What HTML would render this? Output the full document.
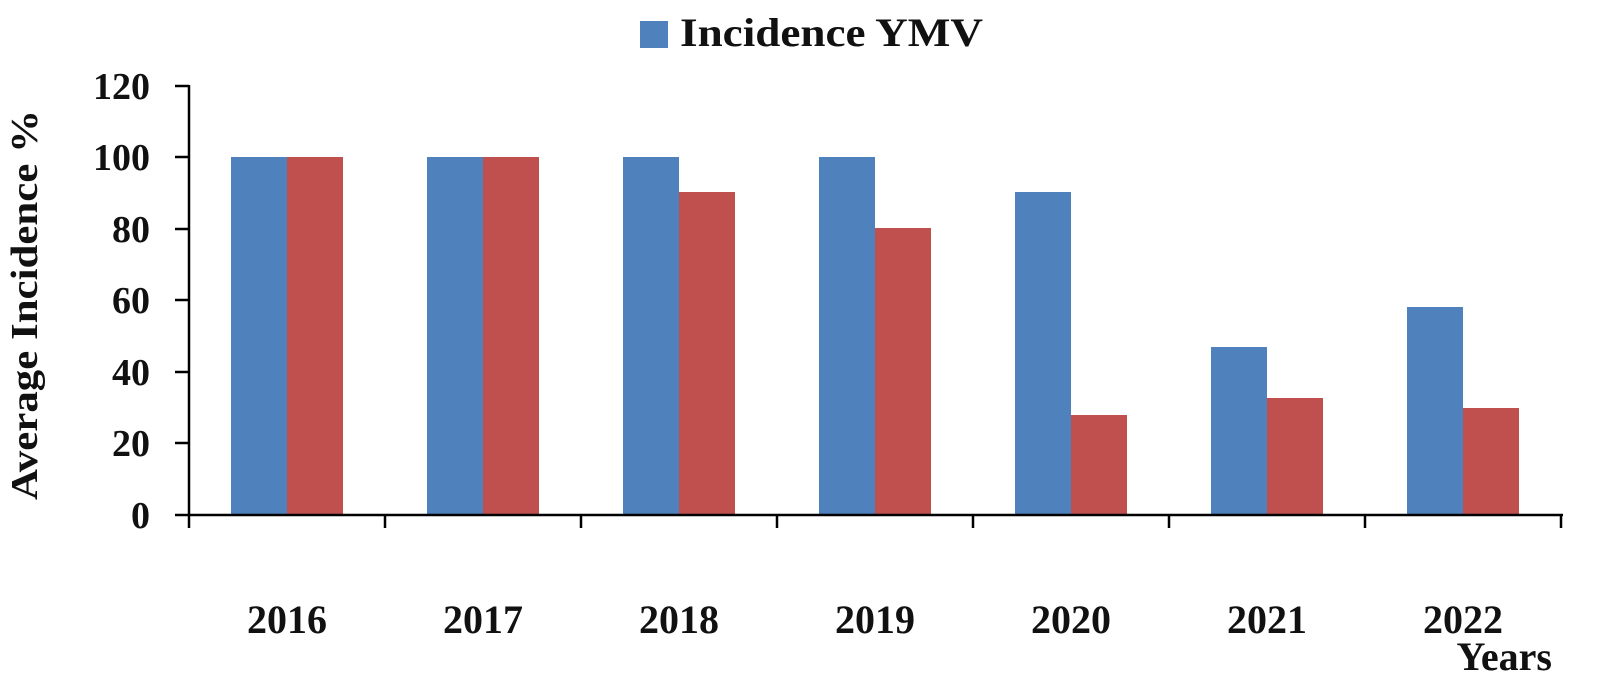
<!DOCTYPE html>
<html><head><meta charset="utf-8"><style>
html,body{margin:0;padding:0;background:#fff}
svg text{font-family:"Liberation Serif",serif;font-weight:bold;fill:#111}
</style></head><body>
<svg width="1600" height="680" xmlns="http://www.w3.org/2000/svg">
<rect x="640" y="21" width="28" height="27" fill="#4F81BD"/>
<text x="680" y="46" font-size="40" textLength="303" lengthAdjust="spacingAndGlyphs">Incidence YMV</text>
<text transform="translate(37,305) rotate(-90)" text-anchor="middle" font-size="38" textLength="390" lengthAdjust="spacingAndGlyphs">Average Incidence %</text>
<g font-size="38" text-anchor="end">
<text x="150" y="528">0</text>
<text x="150" y="456">20</text>
<text x="150" y="385">40</text>
<text x="150" y="313">60</text>
<text x="150" y="242">80</text>
<text x="150" y="170">100</text>
<text x="150" y="99">120</text>
</g>
<g fill="#4F81BD">
<rect x="231" y="157" width="56" height="358"/>
<rect x="427" y="157" width="56" height="358"/>
<rect x="623" y="157" width="56" height="358"/>
<rect x="819" y="157" width="56" height="358"/>
<rect x="1015" y="192" width="56" height="323"/>
<rect x="1211" y="347" width="56" height="168"/>
<rect x="1407" y="307" width="56" height="208"/>
</g>
<g fill="#C0504D">
<rect x="287" y="157" width="56" height="358"/>
<rect x="483" y="157" width="56" height="358"/>
<rect x="679" y="192" width="56" height="323"/>
<rect x="875" y="228" width="56" height="287"/>
<rect x="1071" y="415" width="56" height="100"/>
<rect x="1267" y="398" width="56" height="117"/>
<rect x="1463" y="408" width="56" height="107"/>
</g>
<g stroke="#000" stroke-width="2.5" fill="none">
<line x1="189" y1="85" x2="189" y2="516"/>
<line x1="188" y1="515" x2="1563" y2="515"/>
<line x1="175" y1="515" x2="189" y2="515"/>
<line x1="175" y1="443" x2="189" y2="443"/>
<line x1="175" y1="372" x2="189" y2="372"/>
<line x1="175" y1="300" x2="189" y2="300"/>
<line x1="175" y1="229" x2="189" y2="229"/>
<line x1="175" y1="157" x2="189" y2="157"/>
<line x1="175" y1="86" x2="189" y2="86"/>
<line x1="189" y1="515" x2="189" y2="528"/>
<line x1="385" y1="515" x2="385" y2="528"/>
<line x1="581" y1="515" x2="581" y2="528"/>
<line x1="777" y1="515" x2="777" y2="528"/>
<line x1="973" y1="515" x2="973" y2="528"/>
<line x1="1169" y1="515" x2="1169" y2="528"/>
<line x1="1365" y1="515" x2="1365" y2="528"/>
<line x1="1561" y1="515" x2="1561" y2="528"/>
</g>
<g font-size="40" text-anchor="middle">
<text x="287" y="633">2016</text>
<text x="483" y="633">2017</text>
<text x="679" y="633">2018</text>
<text x="875" y="633">2019</text>
<text x="1071" y="633">2020</text>
<text x="1267" y="633">2021</text>
<text x="1463" y="633">2022</text>
</g>
<text x="1552" y="670" font-size="40" text-anchor="end">Years</text>
</svg>
</body></html>
